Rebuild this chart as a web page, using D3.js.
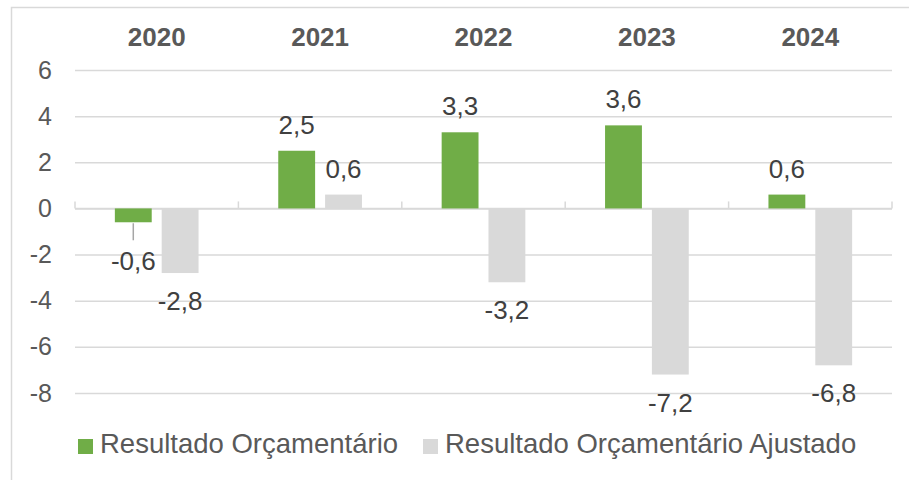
<!DOCTYPE html>
<html>
<head>
<meta charset="utf-8">
<script src="https://cdn.jsdelivr.net/npm/d3@7"></script>
<style>
body { margin: 0; background: #fff; }
text { font-family: "Liberation Sans", Arial, sans-serif; }
</style>
</head>
<body>
<svg></svg>
<script>
const YEARS = ["2020", "2021", "2022", "2023", "2024"];
const SERIES = ["Resultado Orçamentário", "Resultado Orçamentário Ajustado"];
const RESULTADO = [-0.6, 2.5, 3.3, 3.6, 0.6];
const AJUSTADO = [-2.8, 0.6, -3.2, -7.2, -6.8];
const Y_TICKS = [-8, -6, -4, -2, 0, 2, 4, 6];

const COLORS = ["#70ad47", "#d9d9d9"];
const WIDTH = 909;
const HEIGHT = 480;
const PLOT = {left: 75, right: 892, top: 70, bottom: 393};

const svg = d3.select('svg')
.attr('width', WIDTH)
.attr('height', HEIGHT)
;

// chart frame (only top and left edges are visible)
svg.append('rect')
.attr('x', 11.5)
.attr('y', 7.5)
.attr('width', 920)
.attr('height', 500)
.attr('fill', 'none')
.attr('stroke', '#d9d9d9')
.attr('stroke-width', 1.5)
;

const xScale = d3.scaleBand().domain(YEARS).range([PLOT.left, PLOT.right]);
const xInner = d3.scaleBand().domain(SERIES).range([0, xScale.bandwidth()])
.paddingInner(0.213).paddingOuter(0.851);
const yScale = d3.scaleLinear().domain([-8, 6]).range([PLOT.bottom, PLOT.top]);

const rows = YEARS.map((year, i) => ({
    year: year,
    values: [
        {series: SERIES[0], value: RESULTADO[i], color: COLORS[0]},
        {series: SERIES[1], value: AJUSTADO[i], color: COLORS[1]}
    ]
}));

//gridlines + y labels
const yAxis = svg.append('g')
.attr('transform', `translate(${PLOT.left}, 0)`)
.call(d3.axisLeft(yScale).tickValues(Y_TICKS).tickSize(-(PLOT.right - PLOT.left)).tickPadding(23)
    .tickFormat(d => d3.format('d')(d).replace('−', '-')))
;
yAxis.select('.domain').remove();
yAxis.selectAll('.tick line')
.attr('stroke', '#d9d9d9')
.attr('stroke-width', 1.5)
;
yAxis.selectAll('.tick text')
.attr('fill', '#595959')
.attr('font-size', 25)
;

//category labels on top
svg.append('g').selectAll('text')
.data(YEARS)
.enter()
.append('text')
.attr('x', d => xScale(d) + xScale.bandwidth() / 2)
.attr('y', 46)
.attr('text-anchor', 'middle')
.attr('font-size', 26)
.attr('font-weight', 'bold')
.attr('fill', '#595959')
.text(d => d)
;

//zero line with small tick marks at category edges
const zero = yScale(0);
svg.append('line')
.attr('x1', PLOT.left).attr('x2', PLOT.right)
.attr('y1', zero).attr('y2', zero)
.attr('stroke', '#d9d9d9')
.attr('stroke-width', 1.5)
;
const edges = YEARS.map(d => xScale(d)).concat([xScale(YEARS[YEARS.length - 1]) + xScale.bandwidth()]);
svg.append('g').selectAll('line')
.data(edges)
.enter()
.append('line')
.attr('x1', d => d).attr('x2', d => d)
.attr('y1', zero - 7).attr('y2', zero)
.attr('stroke', '#d9d9d9')
.attr('stroke-width', 1.5)
;

//bars
const groups = svg.append('g').selectAll('g')
.data(rows)
.enter()
.append('g')
.attr('transform', d => `translate(${xScale(d.year)}, 0)`)
;

groups.selectAll('rect')
.data(d => d.values)
.enter()
.append('rect')
.attr('x', d => xInner(d.series))
.attr('width', xInner.bandwidth())
.attr('y', d => yScale(Math.max(0, d.value)))
.attr('height', d => Math.abs(yScale(d.value) - yScale(0)))
.attr('fill', d => d.color)
;

//data labels (the first negative one in 2020 is pulled down with a leader line)
const fmt = v => d3.format('.1f')(v).replace('.', ',').replace('−', '-');
groups.each(function(row, ri) {
    const g = d3.select(this);
    row.values.forEach((d, si) => {
        const cx = xInner(d.series) + xInner.bandwidth() / 2;
        let y = d.value >= 0 ? yScale(d.value) - 17 : yScale(d.value) + 37;
        if (ri === 0 && si === 0) {
            g.append('line')
            .attr('x1', cx).attr('x2', cx)
            .attr('y1', yScale(d.value) + 1).attr('y2', yScale(d.value) + 18)
            .attr('stroke', '#a6a6a6')
            .attr('stroke-width', 1.5)
            ;
            y = yScale(d.value) + 48;
        }
        g.append('text')
        .attr('x', cx)
        .attr('y', y)
        .attr('text-anchor', 'middle')
        .attr('font-size', 26)
        .attr('fill', '#404040')
        .text(fmt(d.value))
        ;
    });
});

//legend
const legend = svg.append('g').attr('transform', 'translate(78, 446)');
const legendX = [0, 345];
const items = legend.selectAll('g')
.data(SERIES)
.enter()
.append('g')
.attr('transform', (d, i) => `translate(${legendX[i]}, 0)`)
;
items.append('rect')
.attr('x', 0).attr('y', -7)
.attr('width', 15).attr('height', 15)
.attr('fill', (d, i) => COLORS[i])
;
items.append('text')
.attr('x', 22)
.attr('y', 7)
.attr('font-size', 27.5)
.attr('fill', '#595959')
.text(d => d)
;
</script>
</body>
</html>
